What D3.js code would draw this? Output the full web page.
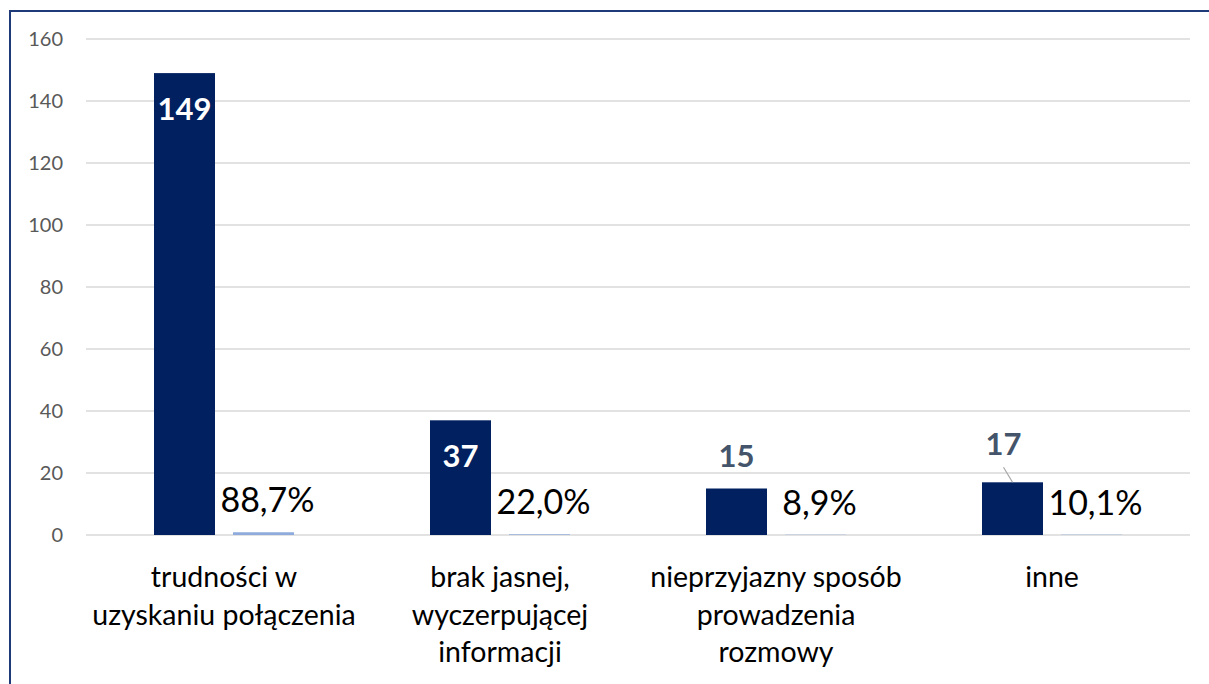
<!DOCTYPE html>
<html>
<head>
<meta charset="utf-8">
<script src="https://cdn.jsdelivr.net/npm/d3@7"></script>
<style>
  body { margin: 0; background: #fff; }
  svg { display: block; font-family: Lato, "Noto Sans", sans-serif; }
</style>
</head>
<body>
<svg id="chart"></svg>
<script>
const width = 1209;
const height = 684;

// data
const categories = [
    "trudności w|uzyskaniu połączenia",
    "brak jasnej,|wyczerpującej|informacji",
    "nieprzyjazny sposób|prowadzenia|rozmowy",
    "inne"
];
const counts = [149, 37, 15, 17];
const shares = [0.887, 0.220, 0.089, 0.101];
const yTicks = [0, 20, 40, 60, 80, 100, 120, 140, 160];

const margin = { top: 39, right: 19, bottom: 149, left: 86 };

const svg = d3.select("#chart")
    .attr("width", width)
    .attr("height", height);

// outer frame (runs off the right and bottom edges like the original)
svg.append("rect")
    .attr("x", 10)
    .attr("y", 11)
    .attr("width", 1300)
    .attr("height", 800)
    .attr("fill", "none")
    .attr("stroke", "#1f3a78")
    .attr("stroke-width", 2);

const x = d3.scaleBand()
    .domain(categories)
    .range([margin.left, width - margin.right])
    .paddingInner(0)
    .paddingOuter(0);

const y = d3.scaleLinear()
    .domain([0, 160])
    .range([height - margin.bottom, margin.top]);

const barW = 61;
const gap = 18;

// gridlines
svg.append("g")
    .selectAll("line")
    .data(yTicks)
    .enter()
    .append("line")
    .attr("x1", margin.left)
    .attr("x2", width - margin.right)
    .attr("y1", d => y(d))
    .attr("y2", d => y(d))
    .attr("stroke", "#d9d9d9")
    .attr("stroke-width", 1.5);

// y axis labels
const yAxis = svg.append("g")
    .attr("transform", `translate(${margin.left - 23},0)`)
    .call(d3.axisLeft(y).tickValues(yTicks).tickSize(0).tickPadding(0));
yAxis.select(".domain").remove();
yAxis.selectAll("text")
    .attr("fill", "#595959")
    .attr("font-size", 20)
    .attr("font-family", "Lato, sans-serif");

const groupX = (i) => x(categories[i]) + x.bandwidth() / 2;

// count bars
svg.append("g")
    .selectAll("rect")
    .data(counts)
    .enter()
    .append("rect")
    .attr("x", (d, i) => groupX(i) - gap / 2 - barW)
    .attr("y", d => y(d))
    .attr("width", barW)
    .attr("height", d => y(0) - y(d))
    .attr("fill", "#002060");

// share bars (tiny, same axis)
svg.append("g")
    .selectAll("rect")
    .data(shares)
    .enter()
    .append("rect")
    .attr("x", (d, i) => groupX(i) + gap / 2)
    .attr("y", d => y(d))
    .attr("width", barW)
    .attr("height", d => y(0) - y(d))
    .attr("fill", "#8faadc");

// count labels: inside for tall bars, above for short ones
counts.forEach((d, i) => {
    const cx = groupX(i) - gap / 2 - barW / 2;
    const h = y(0) - y(d);
    const inside = h > 80;
    let lx = cx;
    let ly = inside ? y(d) + 47 : y(d) - 22;
    if (i === 3) {
        // label nudged off the bar, with leader line
        lx = cx - 9;
        ly = y(d) - 27;
        svg.append("line")
            .attr("x1", cx - 9)
            .attr("y1", ly + 12)
            .attr("x2", cx)
            .attr("y2", y(d))
            .attr("stroke", "#a6a6a6")
            .attr("stroke-width", 1.2);
    }
    svg.append("text")
        .attr("x", lx)
        .attr("y", ly)
        .attr("text-anchor", "middle")
        .attr("font-size", 31)
        .attr("font-weight", "bold")
        .attr("fill", inside ? "#ffffff" : "#44546a")
        .text(d);
});

// share labels
svg.append("g")
    .selectAll("text")
    .data(shares)
    .enter()
    .append("text")
    .attr("x", (d, i) => groupX(i) + gap / 2 + barW / 2 + 4)
    .attr("y", d => y(d) - 20)
    .attr("text-anchor", "middle")
    .attr("font-size", 34)
    .attr("fill", "#000")
    .text(d => d3.format(".1%")(d).replace(".", ","));

// category labels
categories.forEach((c, i) => {
    const t = svg.append("text")
        .attr("x", groupX(i))
        .attr("y", 587)
        .attr("text-anchor", "middle")
        .attr("font-size", 28.5)
        .attr("fill", "#000");
    c.split("|").forEach((line, k) => {
        t.append("tspan")
            .attr("x", groupX(i))
            .attr("dy", k === 0 ? 0 : 37.5)
            .text(line);
    });
});
</script>
</body>
</html>
